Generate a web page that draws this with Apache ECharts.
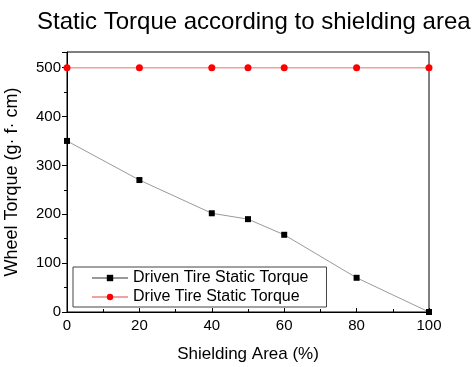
<!DOCTYPE html>
<html>
<head>
<meta charset="utf-8">
<script src="https://cdn.jsdelivr.net/npm/echarts@6/dist/echarts.min.js"></script>
<style>
  html, body { margin: 0; padding: 0; background: #fff; }
  #chart { width: 474px; height: 367px; }
</style>
</head>
<body>
<div id="chart"></div>
<script>
// shielding area (%)
const shieldingArea = [0, 20, 40, 50, 60, 80, 100]
// wheel torque (g·f·cm)
const drivenTorque = [350, 270, 202, 190, 158, 70, 0]
const driveTorque  = [500, 500, 500, 500, 500, 500, 500]

const chart = echarts.init(document.getElementById('chart'), null, { renderer: 'canvas' })

const font = 'Liberation Sans, Arial, sans-serif'

const option = {
  backgroundColor: '#fff',
  animation: false,
  title: {
    text: 'Static Torque according to shielding area',
    left: 37, top: 10, padding: 0,
    textStyle: { fontFamily: font, fontSize: 24, fontWeight: 'normal', color: '#000' },
  },
  grid: {
    left: 67, right: 45, top: 52, bottom: 55,
    outerBoundsMode: 'none',
    show: true, borderColor: '#000', borderWidth: 1,
  },
  legend: {
    orient: 'vertical',
    left: 73, top: 267,
    itemWidth: 36, itemHeight: 8, itemGap: 3,
    padding: [3, 18, 2, 18],
    borderColor: '#444', borderWidth: 1,
    textStyle: { fontFamily: font, fontSize: 16, color: '#000' },
    data: ['Driven Tire Static Torque', 'Drive Tire Static Torque'],
  },
  xAxis: {
    type: 'value', min: 0, max: 100, interval: 20,
    name: 'Shielding Area (%)', nameLocation: 'middle', nameGap: 34,
    nameTextStyle: { fontFamily: font, fontSize: 17, color: '#000' },
    axisLine: { lineStyle: { color: '#000', width: 1 } },
    axisTick: { inside: true, length: 4, lineStyle: { color: '#000' } },
    minorTick: { show: true, splitNumber: 2, length: 3, lineStyle: { color: '#000' } },
    axisLabel: { fontFamily: font, fontSize: 15, color: '#000', margin: 6 },
    splitLine: { show: false },
  },
  yAxis: {
    type: 'value', min: 0, max: 532, interval: 100,
    name: 'Wheel Torque (g· f· cm)', nameLocation: 'middle', nameGap: 46,
    nameTextStyle: { fontFamily: font, fontSize: 18, color: '#000' },
    axisLine: { show: true, lineStyle: { color: '#000', width: 1 } },
    axisTick: { show: true, length: 5, lineStyle: { color: '#000' } },
    minorTick: { show: true, splitNumber: 2, length: 3, lineStyle: { color: '#000' } },
    axisLabel: {
      fontFamily: font, fontSize: 15, color: '#000', margin: 6,
      formatter: v => (v % 100 === 0 ? String(v) : ''),
    },
    splitLine: { show: false },
  },
  series: [
    {
      name: 'Driven Tire Static Torque', type: 'line',
      data: shieldingArea.map((x, i) => [x, drivenTorque[i]]),
      symbol: 'rect', symbolSize: 6,
      lineStyle: { color: '#9a9a9a', width: 1 },
      itemStyle: { color: '#000' },
      clip: false,
    },
    {
      name: 'Drive Tire Static Torque', type: 'line',
      data: shieldingArea.map((x, i) => [x, driveTorque[i]]),
      symbol: 'circle', symbolSize: 7,
      lineStyle: { color: '#f2a0a0', width: 1.5 },
      itemStyle: { color: '#ff0000' },
      clip: false,
    },
  ],
}

chart.setOption(option)
</script>
</body>
</html>
